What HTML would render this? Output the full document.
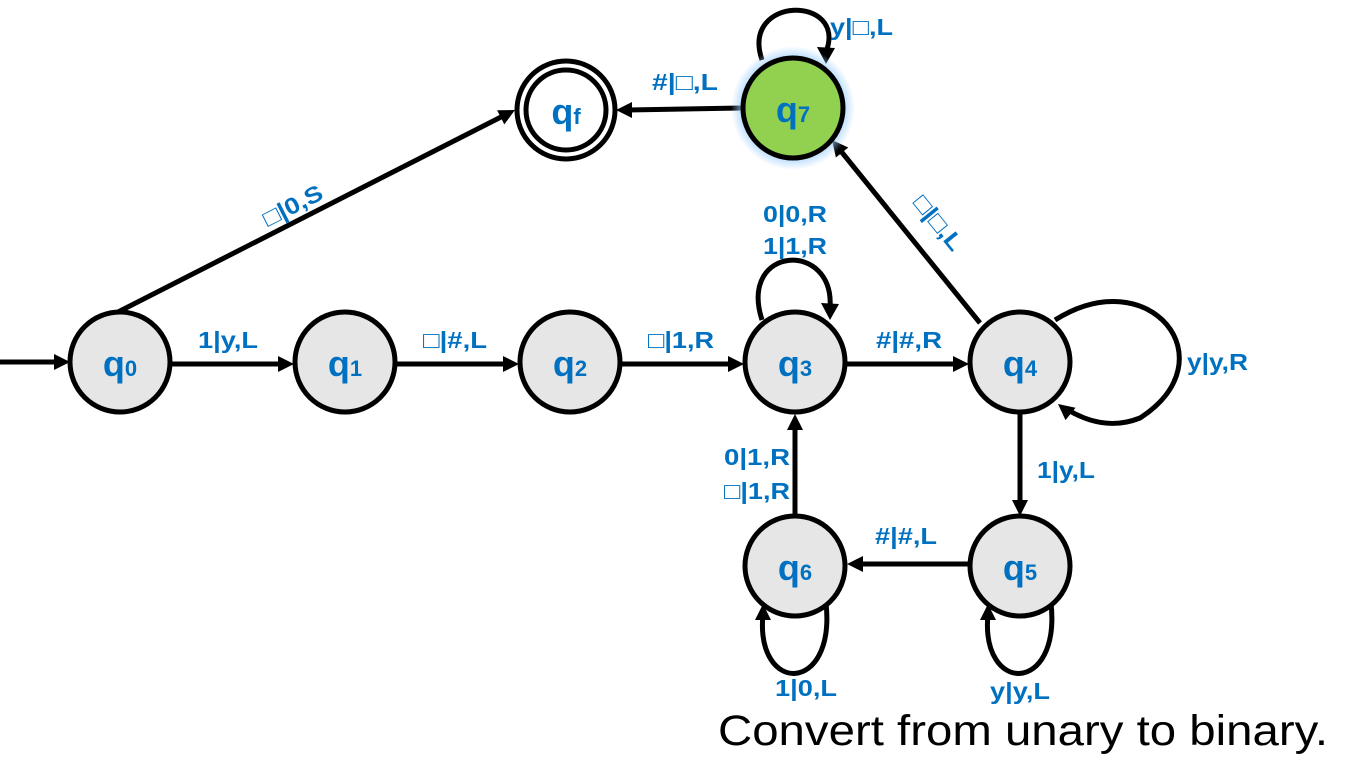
<!DOCTYPE html>
<html><head><meta charset="utf-8"><style>
html,body{margin:0;padding:0;background:#fff;}
svg text{font-family:"Liberation Sans","DejaVu Sans",sans-serif;}
.l{fill:#0070c0;font-weight:bold;font-size:23px;}
.n{fill:#0070c0;font-weight:bold;font-size:36px;}
.s{font-size:22px;}
</style></head><body>
<svg width="1360" height="768" viewBox="0 0 1360 768" xmlns="http://www.w3.org/2000/svg">
<defs>
<radialGradient id="g"><stop offset="0.75" stop-color="#9fd0ff"/><stop offset="1" stop-color="#9fd0ff" stop-opacity="0"/></radialGradient>
</defs>
<g stroke="#000" stroke-width="5" fill="none">
<line x1="0" y1="362" x2="60" y2="362"/>
<line x1="171" y1="364" x2="284" y2="364"/>
<line x1="396" y1="364" x2="509" y2="364"/>
<line x1="621" y1="364" x2="734" y2="364"/>
<line x1="846" y1="364" x2="959" y2="364"/>
<line x1="118" y1="312" x2="503" y2="116"/>
<line x1="741" y1="108" x2="626" y2="110"/>
<line x1="980" y1="323" x2="840" y2="150"/>
<line x1="1020" y1="413" x2="1020" y2="506"/>
<line x1="969" y1="564" x2="857" y2="564"/>
<line x1="795" y1="514" x2="795" y2="424"/>
<path d="M762,320 C738,245 835,240 830,308"/>
<path d="M1055,320 C1150,260 1230,360 1140,418 C1110,430 1085,420 1068,410"/>
<path d="M762,60 C740,-5 848,-5 826,52"/>
<path d="M826,603 C836,695 755,695 763,614"/>
<path d="M1051,603 C1061,695 980,695 988,614"/>
</g>
<g fill="#000">
<polygon points="54,354 70,362 54,370"/>
<polygon points="278,356 294,364 278,372"/>
<polygon points="503,356 519,364 503,372"/>
<polygon points="728,356 744,364 728,372"/>
<polygon points="953,356 969,364 953,372"/>
<polygon points="515,110 504.3,124.4 497.1,110.2"/>
<polygon points="616,110 632,102 632,118"/>
<polygon points="832,140 848.3,147.5 835.9,157.5"/>
<polygon points="1020,516 1012,500 1028,500"/>
<polygon points="847,564 863,556 863,572"/>
<polygon points="795,414 787,430 803,430"/>
<polygon points="830,320 821,303 839,304"/>
<polygon points="826,64 817,47 835,48"/>
<polygon points="1058,404 1075.5,407.7 1065.5,420.1"/>
<polygon points="763,604 755,620 771,620"/>
<polygon points="988,604 980,620 996,620"/>
</g>
<circle cx="793" cy="108" r="62" fill="url(#g)"/>
<g stroke="#000" stroke-width="5">
<circle cx="120" cy="362" r="50" fill="#e6e6e6"/>
<circle cx="345" cy="362" r="50" fill="#e6e6e6"/>
<circle cx="570" cy="362" r="50" fill="#e6e6e6"/>
<circle cx="795" cy="362" r="50" fill="#e6e6e6"/>
<circle cx="1020" cy="362" r="50" fill="#e6e6e6"/>
<circle cx="1020" cy="566" r="50" fill="#e6e6e6"/>
<circle cx="795" cy="566" r="50" fill="#e6e6e6"/>
<circle cx="793" cy="108" r="50" fill="#92d050"/>
<circle cx="566" cy="110" r="49" fill="#fff"/>
<circle cx="566" cy="110" r="40" fill="#fff"/>
</g>
<g class="n" text-anchor="middle">
<text x="120" y="376">q<tspan class="s">0</tspan></text>
<text x="345" y="376">q<tspan class="s">1</tspan></text>
<text x="570" y="376">q<tspan class="s">2</tspan></text>
<text x="795" y="376">q<tspan class="s">3</tspan></text>
<text x="1020" y="376">q<tspan class="s">4</tspan></text>
<text x="1020" y="580">q<tspan class="s">5</tspan></text>
<text x="795" y="580">q<tspan class="s">6</tspan></text>
<text x="793" y="122">q<tspan class="s">7</tspan></text>
<text x="566" y="124">q<tspan class="s">f</tspan></text>
</g>
<g class="l">
<text x="198" y="348" textLength="60" lengthAdjust="spacingAndGlyphs">1|y,L</text>
<text x="423" y="348" textLength="64" lengthAdjust="spacingAndGlyphs">□|#,L</text>
<text x="648" y="348" textLength="66" lengthAdjust="spacingAndGlyphs">□|1,R</text>
<text x="876" y="348" textLength="66" lengthAdjust="spacingAndGlyphs">#|#,R</text>
<text x="763" y="222" textLength="64" lengthAdjust="spacingAndGlyphs">0|0,R</text>
<text x="763" y="254" textLength="64" lengthAdjust="spacingAndGlyphs">1|1,R</text>
<text x="1187" y="370" textLength="61" lengthAdjust="spacingAndGlyphs">y|y,R</text>
<text x="1037" y="478" textLength="58" lengthAdjust="spacingAndGlyphs">1|y,L</text>
<text x="875" y="544" textLength="62" lengthAdjust="spacingAndGlyphs">#|#,L</text>
<text x="724" y="465" textLength="66" lengthAdjust="spacingAndGlyphs">0|1,R</text>
<text x="724" y="499" textLength="66" lengthAdjust="spacingAndGlyphs">□|1,R</text>
<text x="775" y="696" textLength="62" lengthAdjust="spacingAndGlyphs">1|0,L</text>
<text x="990" y="699" textLength="60" lengthAdjust="spacingAndGlyphs">y|y,L</text>
<text x="830" y="35" textLength="63" lengthAdjust="spacingAndGlyphs">y|□,L</text>
<text x="652" y="90" textLength="66" lengthAdjust="spacingAndGlyphs">#|□,L</text>
<text x="258" y="214" textLength="64" lengthAdjust="spacingAndGlyphs" transform="rotate(-27 290 200)">□|0,S</text>
<text x="905" y="230" textLength="64" lengthAdjust="spacingAndGlyphs" transform="rotate(51 937 224)">□|□,L</text>
</g>
<text x="718" y="745" textLength="610" lengthAdjust="spacingAndGlyphs" style="font-size:43px;fill:#000">Convert from unary to binary.</text>
</svg>
</body></html>
